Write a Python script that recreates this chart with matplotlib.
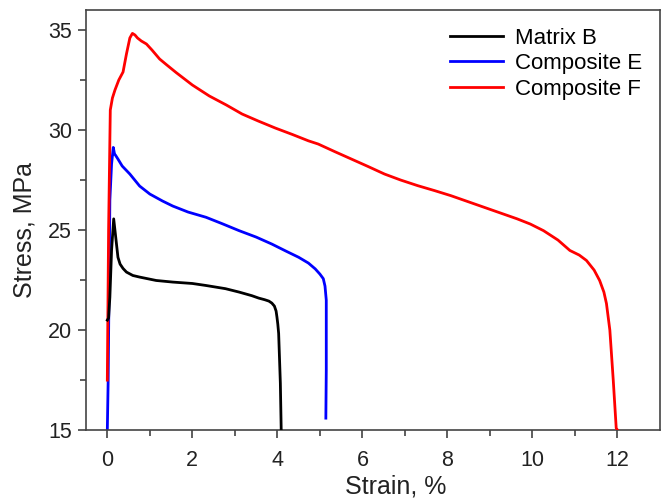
import numpy as np
import matplotlib.pyplot as plt

plt.rcParams['font.family'] = ['Liberation Sans', 'DejaVu Sans']

# strain (%) / stress (MPa)
strain_b = [0.0, 0.03, 0.06, 0.1, 0.15, 0.2, 0.25, 0.3, 0.37, 0.45, 0.6, 0.76, 1.15, 1.54, 2.0, 2.32, 2.78, 3.1, 3.4, 3.56, 3.7, 3.8, 3.87, 3.93, 3.97, 3.99, 4.01, 4.03, 4.07, 4.09]
stress_b = [20.5, 20.6, 21.65, 24.0, 25.56, 24.6, 23.64, 23.3, 23.08, 22.9, 22.73, 22.65, 22.48, 22.4, 22.33, 22.23, 22.07, 21.9, 21.72, 21.6, 21.52, 21.45, 21.35, 21.2, 20.95, 20.65, 20.3, 19.83, 17.35, 15.0]

strain_e = [0.0, 0.02, 0.06, 0.1, 0.14, 0.17, 0.19, 0.25, 0.35, 0.53, 0.76, 1.0, 1.3, 1.54, 1.9, 2.32, 2.7, 3.1, 3.5, 3.87, 4.2, 4.5, 4.73, 4.89, 5.0, 5.08, 5.12, 5.15, 5.15, 5.14]
stress_e = [15.0, 17.5, 26.5, 28.3, 29.13, 28.8, 28.75, 28.55, 28.2, 27.8, 27.2, 26.8, 26.45, 26.2, 25.9, 25.64, 25.32, 24.97, 24.65, 24.3, 23.95, 23.64, 23.35, 23.06, 22.8, 22.57, 22.2, 21.5, 18.0, 15.6]

strain_f = [0.0, 0.03, 0.07, 0.12, 0.18, 0.27, 0.37, 0.45, 0.53, 0.59, 0.65, 0.71, 0.8, 0.92, 1.05, 1.23, 1.4, 1.62, 2.0, 2.4, 2.8, 3.17, 3.55, 3.95, 4.35, 4.73, 4.96, 5.35, 5.74, 6.13, 6.52, 6.9, 7.3, 7.7, 8.08, 8.47, 8.86, 9.25, 9.64, 9.95, 10.26, 10.6, 10.88, 11.1, 11.27, 11.45, 11.58, 11.68, 11.74, 11.82, 11.9, 11.97, 12.0]
stress_f = [17.5, 25.0, 31.0, 31.6, 32.0, 32.5, 32.9, 33.8, 34.6, 34.83, 34.75, 34.6, 34.45, 34.3, 34.0, 33.55, 33.25, 32.87, 32.25, 31.7, 31.25, 30.8, 30.45, 30.1, 29.78, 29.46, 29.3, 28.92, 28.55, 28.18, 27.8, 27.5, 27.22, 26.97, 26.72, 26.43, 26.14, 25.85, 25.56, 25.3, 24.97, 24.5, 23.98, 23.75, 23.48, 23.0, 22.48, 21.9, 21.33, 20.0, 17.5, 15.1, 15.0]

fig = plt.figure(figsize=(6.62, 4.99), dpi=100)
ax = fig.add_axes([0.13, 0.138, 0.867, 0.842])

ax.plot(strain_b, stress_b, color='black', lw=2, label='Matrix B', zorder=4)
ax.plot(strain_e, stress_e, color='blue', lw=2, label='Composite E', zorder=2)
ax.plot(strain_f, stress_f, color='red', lw=2, label='Composite F', zorder=3)

ax.set_xlim(-0.5, 13)
ax.set_ylim(15, 36)
ax.set_xticks(np.arange(0, 13, 2))
ax.set_xticks(np.arange(1, 13, 2), minor=True)
ax.set_yticks(np.arange(15, 36, 5))
ax.set_yticks(np.arange(17.5, 36, 5), minor=True)
ax.tick_params(which='major', direction='out', length=6, width=1.1, labelsize=15.5,
               colors='#333333', labelcolor='#222222', pad=4)
ax.tick_params(axis='x', which='major', pad=8)
ax.tick_params(which='minor', direction='out', length=4, width=1.1, colors='#333333')
for s in ax.spines.values():
    s.set_color('#444444')
    s.set_linewidth(1.2)

ax.set_xlabel('Strain, %', fontsize=18, color='#222222', va='center')
ax.set_ylabel('Stress, MPa', fontsize=18, color='#222222', va='center')
ax.xaxis.set_label_coords(0.54, -0.133)
ax.yaxis.set_label_coords(-0.108, 0.476)

handles, labels = ax.get_legend_handles_labels()
ax.legend(handles, labels, loc='upper right', frameon=False, fontsize=16, handlelength=2.4,
          labelspacing=0.2, handletextpad=0.55, borderaxespad=0.4)

fig.savefig('out.png', dpi=100)
